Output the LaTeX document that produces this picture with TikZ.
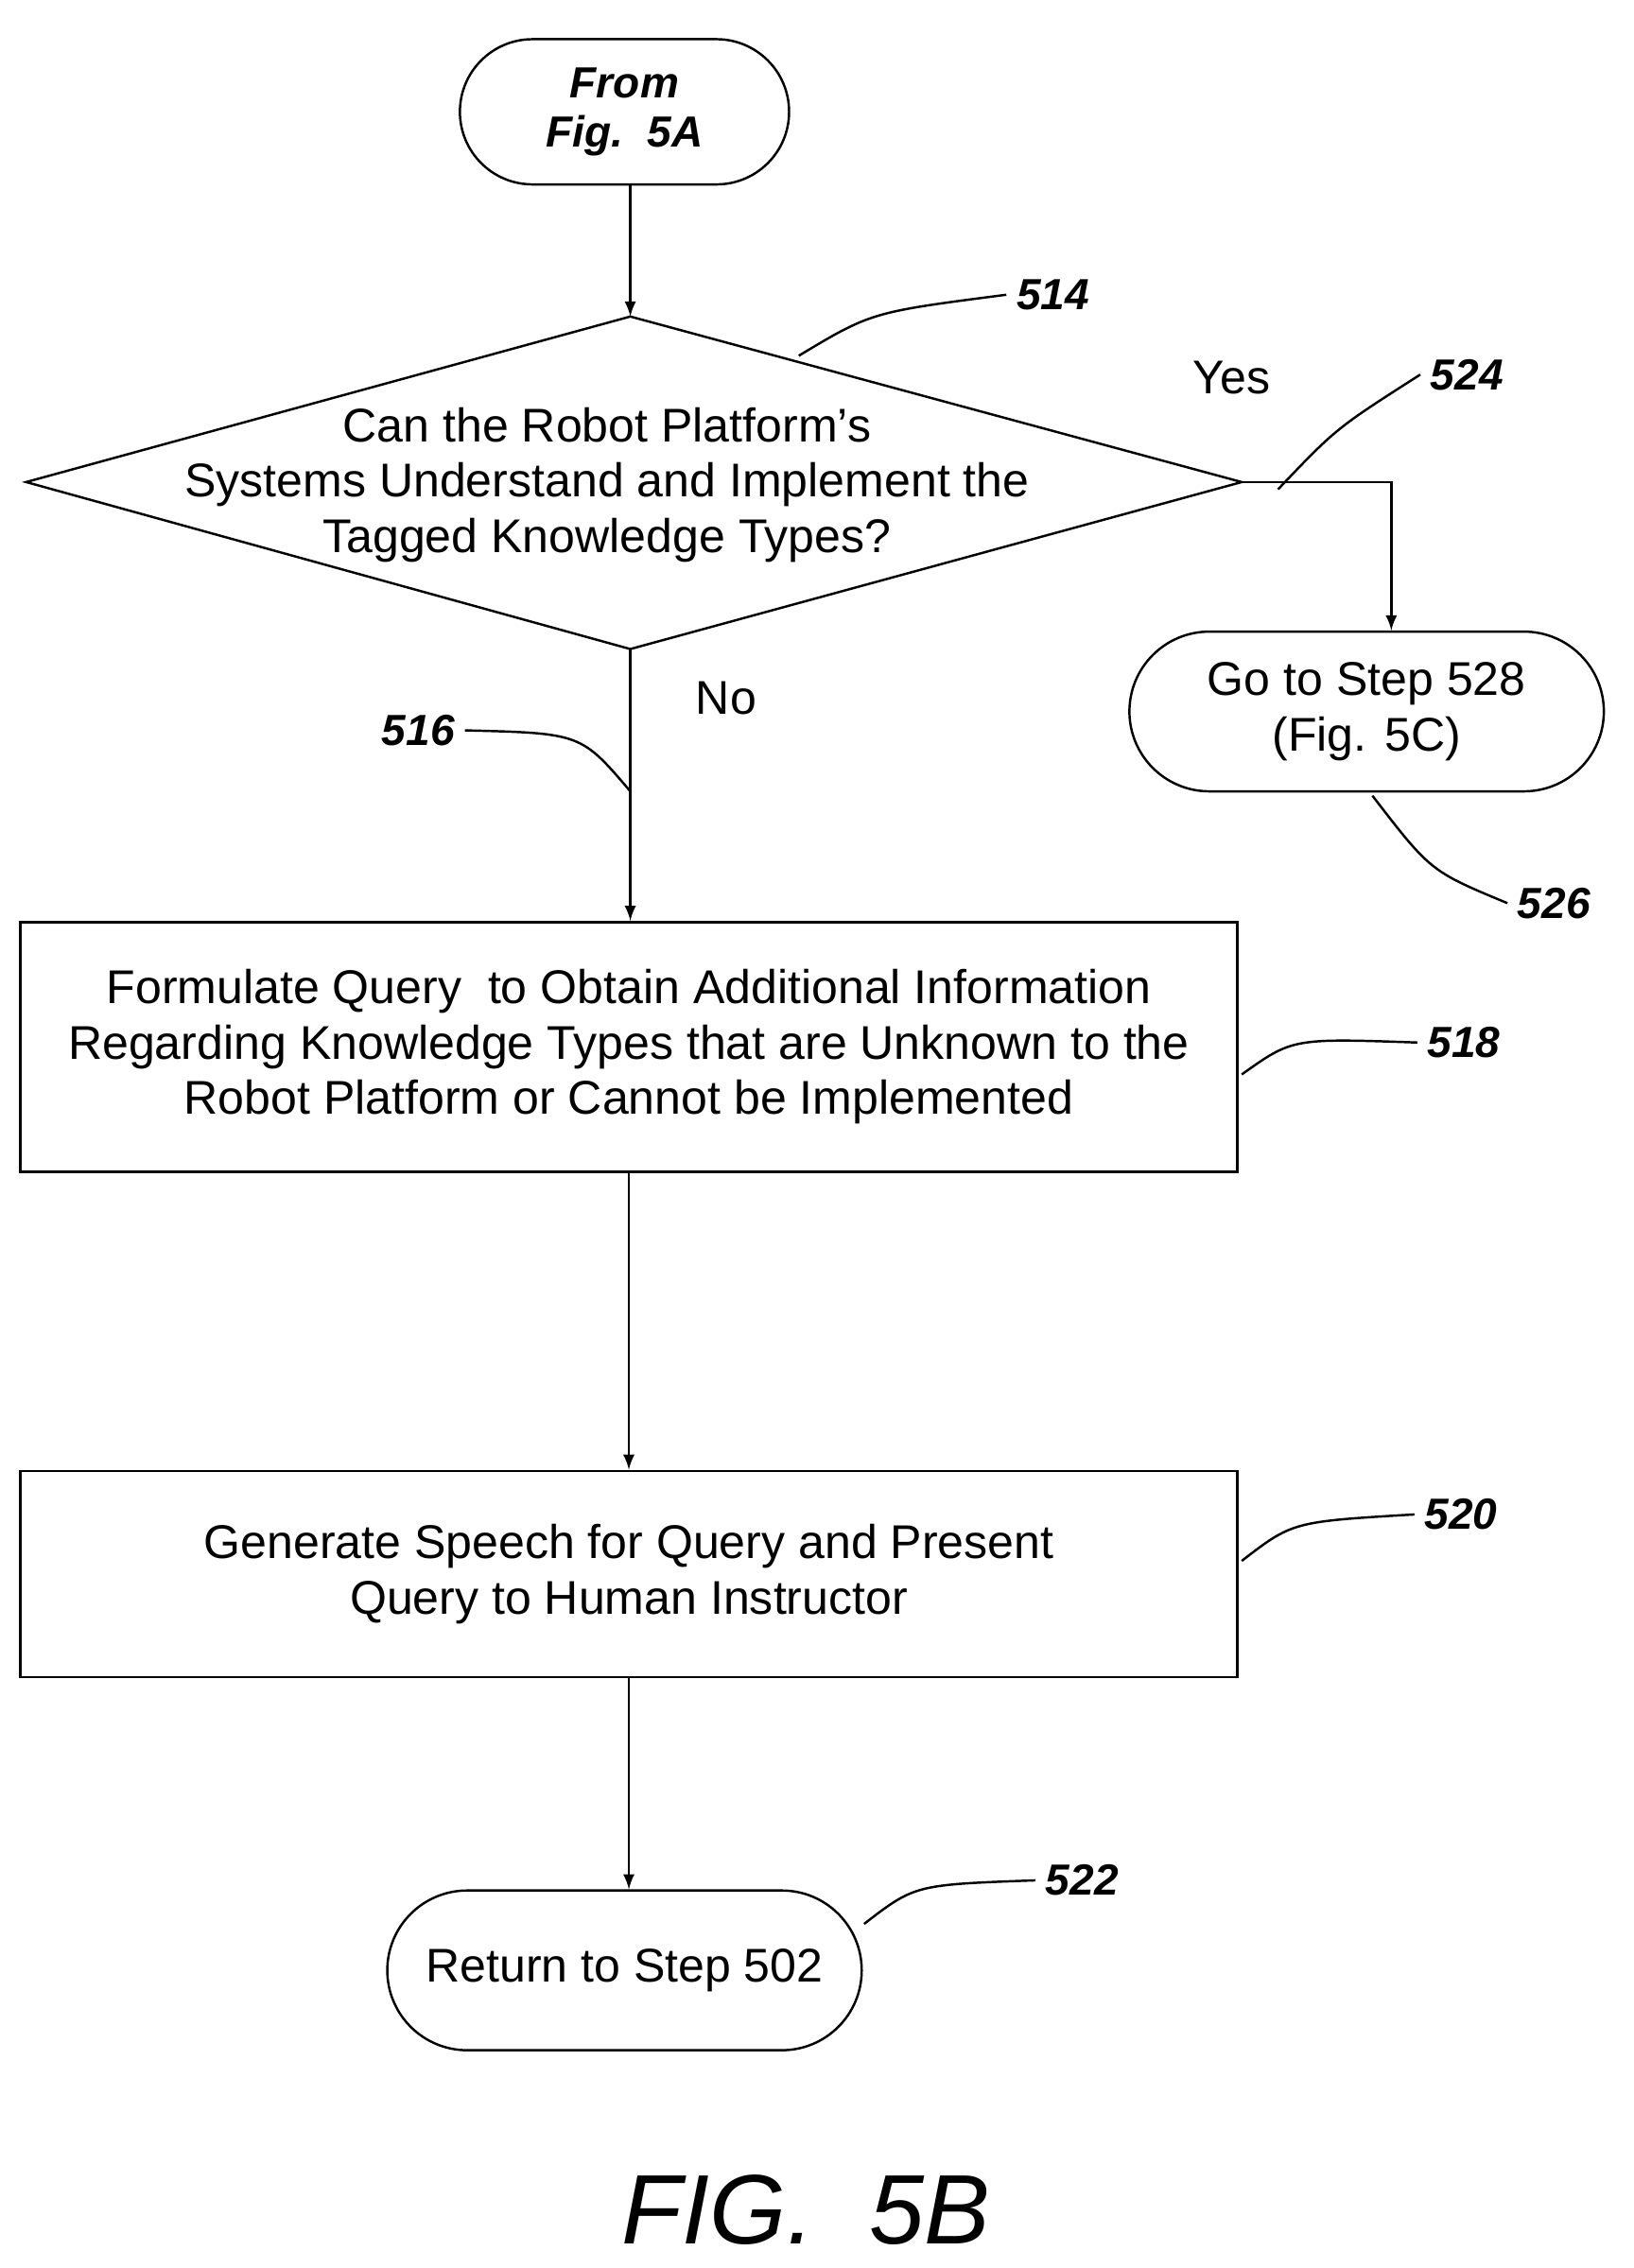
\documentclass[tikz,border=0pt]{standalone}
\usepackage{fontspec}
\setmainfont{Liberation Sans}
\usetikzlibrary{shapes.misc, arrows, positioning, calc}

\begin{document}
\begin{tikzpicture}[x=0.5pt,y=-0.5pt,
  txt/.style={font=\fontsize{16.3}{19}\selectfont, align=center},
  term/.style={draw,rounded rectangle,line width=0.8pt,txt},
  box/.style={draw,rectangle,line width=0.8pt,txt,minimum width=419pt},
  ref/.style={font=\fontsize{15}{18}\selectfont\bfseries\itshape},
  flow/.style={->,>=latex,line width=0.8pt},
  lead/.style={line width=0.8pt}]
        \useasboundingbox (0,0) rectangle (1125,1562);
        \node[term, minimum width=120pt, minimum height=50pt, font=\fontsize{15}{17}\selectfont\bfseries\itshape] (from) at (430,77) {From\\Fig.~~5A};
        % decision
        \coordinate (dtop) at (434,218);
        \coordinate (dright) at (855,332);
        \coordinate (dbot) at (434,447);
        \coordinate (dleft) at (18,332);
        \draw[line width=0.8pt] (dtop) -- (dright) -- (dbot) -- (dleft) -- cycle;
        \node[txt] (ask) at (418,334) {Can the Robot Platform\char39 s\\Systems Understand and Implement the\\Tagged Knowledge Types?};
        \node[term, minimum width=170pt, minimum height=55pt] (goto) at (941,490) {Go to Step 528\\(Fig. 5C)};
        \coordinate (yes) at (958,332);
        \node[box, minimum height=86pt] (query) at (433,721) {Formulate Query~ to Obtain Additional Information\\Regarding Knowledge Types that are Unknown to the\\Robot Platform or Cannot be Implemented};
        \node[box, minimum height=71pt] (speech) at (433,1084) {Generate Speech for Query and Present\\Query to Human Instructor};
        \node[term, minimum width=170pt, minimum height=55pt] (back) at (430,1357) {Return to Step 502};
        \draw[flow] (from.south -| dtop) -- (dtop);
        \draw[flow] (dright) -- (yes) -- (yes |- goto.north);
        \node[txt] (yeslbl) at (848,260) {Yes};
        \node[txt] (nolbl) at (500,481) {No};
        \draw[flow] (dbot) -- (dbot |- query.north);
        \draw[flow] (query) -- (speech);
        \draw[flow] (speech) -- (back.north -| speech);
        % reference numerals
        \node[ref] (n514) at (725,203) {514};
        \node[ref] (n524) at (1010,258) {524};
        \node[ref] (n516) at (288,503) {516};
        \node[ref] (n526) at (1070,622) {526};
        \node[ref] (n518) at (1008,718) {518};
        \node[ref] (n520) at (1006,1043) {520};
        \node[ref] (n522) at (745,1295) {522};
        \draw[lead] (550,245) .. controls (600,215) .. (n514.west);
        \draw[lead] (880,337) .. controls (920,295) .. (n524.west);
        \draw[lead] (434,545) .. controls (400,505) .. (n516.east);
        \draw[lead] (945,548) .. controls (985,600) .. (n526.west);
        \draw[lead] (855,740) .. controls (890,715) .. (n518.west);
        \draw[lead] (855,1075) .. controls (890,1048) .. (n520.west);
        \draw[lead] (595,1325) .. controls (630,1298) .. (n522.west);
        \node[font=\fontsize{34}{38}\selectfont\itshape] (fig) at (555,1522) {FIG.~~5B};
\end{tikzpicture}
\end{document}
